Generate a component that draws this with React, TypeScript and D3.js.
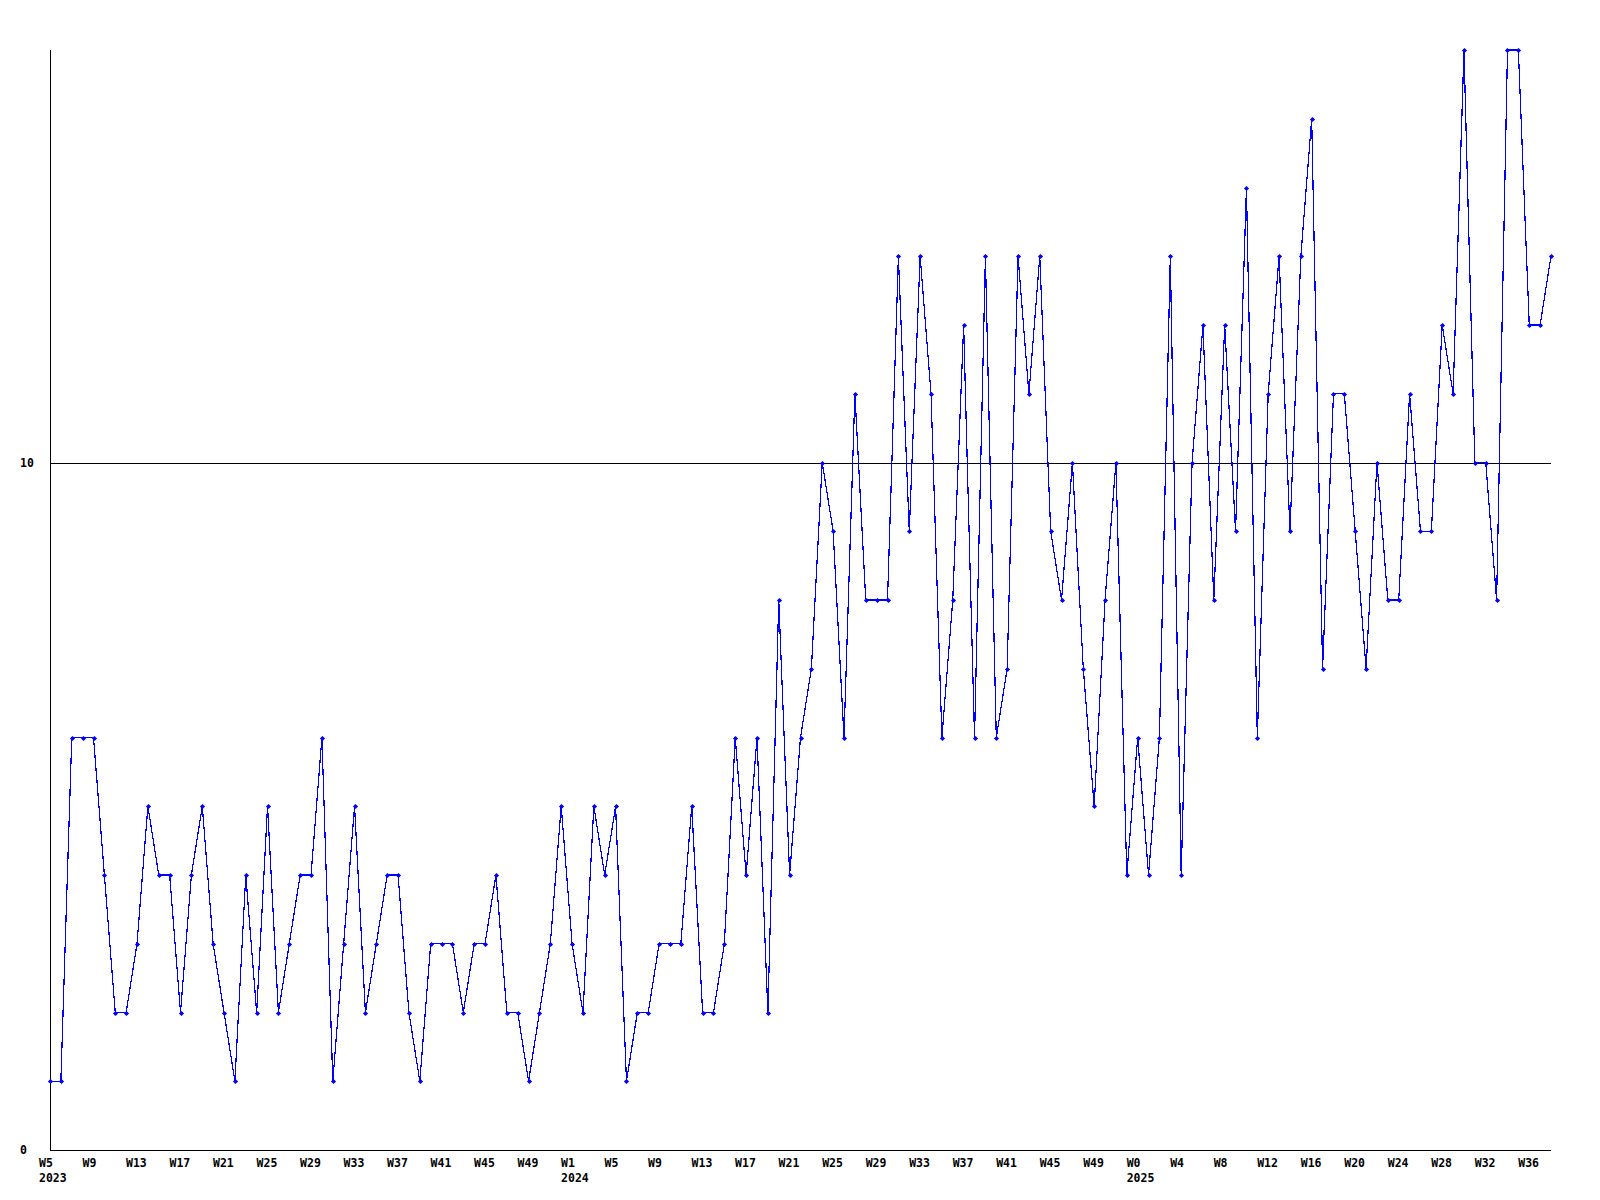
import React from "react";
import * as d3 from "d3";

// Week categories: each year's first and last week number
const years = [2023, 2024, 2025];
const firstWeek = [5, 1, 0];
const lastWeek = [52, 52, 38];

// Weekly counts
const values = [
  1, 1, 6, 6, 6, 4, 2, 2, 3, 5,
  4, 4, 2, 4, 5, 3, 2, 1, 4, 2,
  5, 2, 3, 4, 4, 6, 1, 3, 5, 2,
  3, 4, 4, 2, 1, 3, 3, 3, 2, 3,
  3, 4, 2, 2, 1, 2, 3, 5, 3, 2,
  5, 4, 5, 1, 2, 2, 3, 3, 3, 5,
  2, 2, 3, 6, 4, 6, 2, 8, 4, 6,
  7, 10, 9, 6, 11, 8, 8, 8, 13, 9,
  13, 11, 6, 8, 12, 6, 13, 6, 7, 13,
  11, 13, 9, 8, 10, 7, 5, 8, 10, 4,
  6, 4, 6, 13, 4, 10, 12, 8, 12, 9,
  14, 6, 11, 13, 9, 13, 15, 7, 11, 11,
  9, 7, 10, 8, 8, 11, 9, 9, 12, 11,
  16, 10, 10, 8, 16, 16, 12, 12, 13,
];

const yTickValues = [0, 10];
const yMax = 16;
const xTickEvery = 4;

type Cat = { year: number; week: number; firstOfYear: boolean };
const categories: Cat[] = [];
years.forEach((y, i) => {
  for (let w = firstWeek[i]; w <= lastWeek[i]; w++) {
    categories.push({ year: y, week: w, firstOfYear: w === firstWeek[i] });
  }
});

export default function App() {
  const W = 1600;
  const H = 1200;
  const left = 50;
  const right = 1551;
  const top = 50;
  const bottom = 1150;

  const x = d3
    .scaleLinear()
    .domain([0, values.length - 1])
    .range([left, right]);
  const y = d3.scaleLinear().domain([0, yMax]).range([bottom, top]);

  const line = d3
    .line<number>()
    .x((_, i) => x(i))
    .y((d) => y(d));

  const font = "'DejaVu Sans Mono', 'Liberation Mono', monospace";
  const n = Math.min(values.length, categories.length);

  return (
    <svg
      width={W}
      height={H}
      style={{ position: "absolute", left: 0, top: 0, background: "#fff" }}
    >
      <rect x={0} y={0} width={W} height={H} fill="#fff" />
      {/* horizontal reference lines */}
      {yTickValues.map((t) => (
        <g key={t}>
          <line
            x1={left}
            x2={right}
            y1={Math.round(y(t)) + 0.5}
            y2={Math.round(y(t)) + 0.5}
            stroke="#000"
            strokeWidth={1}
            shapeRendering="crispEdges"
          />
          <text
            x={20}
            y={Math.round(y(t)) + 4}
            fontFamily={font}
            fontWeight="bold"
            fontSize={11.5}
            fill="#000"
          >
            {t}
          </text>
        </g>
      ))}
      {/* y axis */}
      <line
        x1={left + 0.5}
        x2={left + 0.5}
        y1={top}
        y2={bottom + 1}
        stroke="#000"
        strokeWidth={1}
        shapeRendering="crispEdges"
      />
      {/* series line */}
      <path
        d={line(values) || ""}
        fill="none"
        stroke="#0000ff"
        strokeWidth={1.2}
        shapeRendering="crispEdges"
      />
      {/* markers */}
      {values.map((v, i) => {
        const cx = Math.round(x(i)) + 0.5;
        const cy = Math.round(y(v)) + 0.5;
        const r = 2.6;
        return (
          <path
            key={i}
            d={`M${cx - r},${cy}L${cx},${cy - r}L${cx + r},${cy}L${cx},${cy + r}Z`}
            fill="#0000ff"
          />
        );
      })}
      {/* x tick labels */}
      {categories.slice(0, n).map((c, i) =>
        i % xTickEvery === 0 ? (
          <g key={i}>
            <text
              x={x(i) - 11}
              y={bottom + 16.5}
              fontFamily={font}
              fontWeight="bold"
              fontSize={11.5}
              fill="#000"
            >
              {`W${c.week}`}
            </text>
            {c.firstOfYear ? (
              <text
                x={x(i) - 11}
                y={bottom + 31.5}
                fontFamily={font}
                fontWeight="bold"
                fontSize={11.5}
                fill="#000"
              >
                {c.year}
              </text>
            ) : null}
          </g>
        ) : null
      )}
    </svg>
  );
}
